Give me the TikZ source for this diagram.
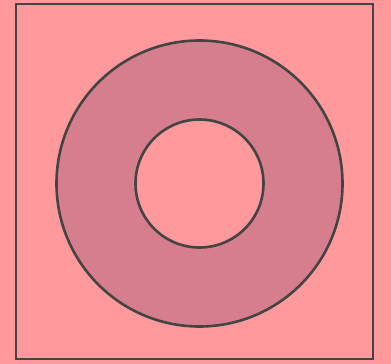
\documentclass[tikz,border=0pt]{standalone}
\definecolor{bgpink}{HTML}{FF999C}
\definecolor{ringpink}{HTML}{D77E8E}
\definecolor{edge}{HTML}{444444}
\begin{document}
\begin{tikzpicture}[x=1pt,y=-1pt,
  shape line/.style={draw=edge,line width=2.6pt}]
\fill[bgpink] (0,0) rectangle (391,364);
\useasboundingbox (0,0) rectangle (391,364);
\draw[shape line] (16,4) rectangle (373,359);
\path[fill=ringpink,even odd rule] (199.5,183.5) circle[radius=143] (199.5,183.5) circle[radius=64];
\draw[shape line] (199.5,183.5) circle[radius=143];
\draw[shape line] (199.5,183.5) circle[radius=64];
\end{tikzpicture}
\end{document}
